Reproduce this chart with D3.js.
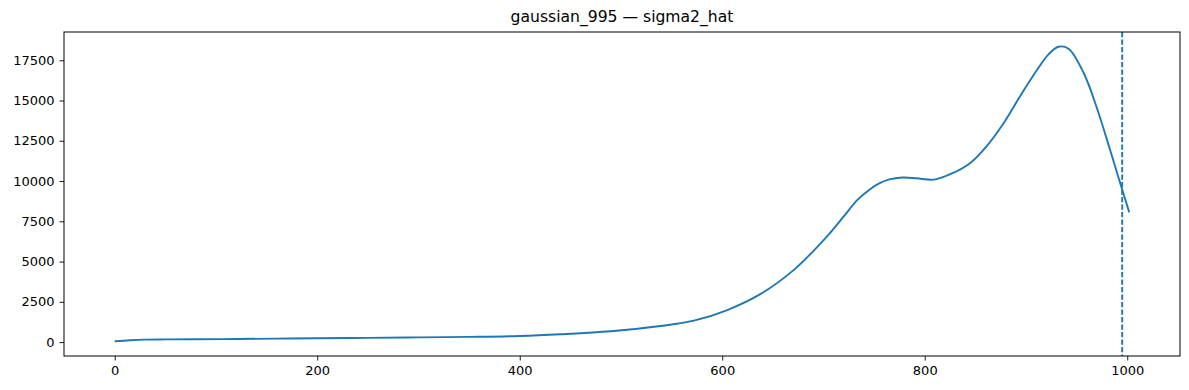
<!DOCTYPE html>
<html>
<head>
<meta charset="utf-8">
<script src="https://cdn.jsdelivr.net/npm/d3@7"></script>
<style>
  body { margin: 0; background: #fff; }
  text { font-family: "DejaVu Sans", sans-serif; fill: #000; }
</style>
</head>
<body>
<svg id="chart"></svg>
<script>
// values
var xs = [0, 15, 30, 50, 80, 120, 160, 200, 250, 300, 350, 400, 440, 490, 539, 572, 605, 638, 671, 704, 720, 733, 745, 755, 765, 778, 792, 809, 828, 845, 861, 878, 894, 911, 922, 932, 942, 957, 970, 983, 993, 1002];
var sigma2 = [50, 110, 150, 165, 175, 190, 215, 236, 262, 290, 325, 380, 484, 670, 1000, 1330, 1990, 2991, 4499, 6600, 7800, 8800, 9450, 9850, 10100, 10220, 10170, 10085, 10500, 11121, 12151, 13603, 15254, 16911, 17850, 18340, 18220, 16706, 14534, 11946, 9879, 8055];
var marker = 995;
var xTicks = [0, 200, 400, 600, 800, 1000];
var yTicks = [0, 2500, 5000, 7500, 10000, 12500, 15000, 17500];
var title = "gaussian_995 \u2014 sigma2_hat";

var W = 1189, H = 390;
var margin = {top: 32, right: 9, bottom: 34, left: 64};
var w = W - margin.left - margin.right,
    h = H - margin.top - margin.bottom;

var svg = d3.select("#chart").attr("width", W).attr("height", H);
var g = svg.append("g")
    .attr("transform", "translate(" + margin.left + "," + margin.top + ")");

// matplotlib style 5% padding
var xmin = d3.min(xs), xmax = d3.max(xs);
var ymin = d3.min(sigma2), ymax = d3.max(sigma2);
var xpad = (xmax - xmin) * 0.05, ypad = (ymax - ymin) * 0.05;

var x = d3.scaleLinear().domain([xmin - xpad, xmax + xpad]).range([0, w]);
var y = d3.scaleLinear().domain([ymin - ypad, ymax + ypad]).range([h, 0]);

var data = xs.map(function(d, i) { return {x: d, y: sigma2[i]}; });

var line = d3.line()
    .x(function(d) { return x(d.x); })
    .y(function(d) { return y(d.y); })
    .curve(d3.curveCatmullRom.alpha(0.5));

g.append("path")
    .datum(data)
    .attr("fill", "none")
    .attr("stroke", "#1f77b4")
    .attr("stroke-width", 1.9)
    .attr("stroke-linejoin", "round")
    .attr("d", line);

g.append("line")
    .attr("x1", x(marker)).attr("x2", x(marker))
    .attr("y1", 0).attr("y2", h)
    .attr("stroke", "#1f77b4")
    .attr("stroke-width", 1.9)
    .attr("stroke-dasharray", "5.2,2.3");

// axes
var xAxis = g.append("g")
    .attr("transform", "translate(0," + h + ")")
    .call(d3.axisBottom(x).tickValues(xTicks).tickSize(4.5).tickPadding(5).tickFormat(d3.format("d")));
var yAxis = g.append("g")
    .call(d3.axisLeft(y).tickValues(yTicks).tickSize(4.5).tickPadding(5).tickFormat(d3.format("d")));

[xAxis, yAxis].forEach(function(a) {
  a.select(".domain").remove();
  a.selectAll("line").attr("stroke", "#000").attr("stroke-width", 0.9);
  a.selectAll("text").attr("font-size", "13px").attr("font-family", "DejaVu Sans, sans-serif");
});

// frame
g.append("rect")
    .attr("x", 0).attr("y", 0)
    .attr("width", w).attr("height", h)
    .attr("fill", "none")
    .attr("stroke", "#000")
    .attr("stroke-width", 1);

svg.append("text")
    .attr("x", margin.left + w / 2)
    .attr("y", 22)
    .attr("text-anchor", "middle")
    .attr("font-size", "15.6px")
    .text(title);
</script>
</body>
</html>
